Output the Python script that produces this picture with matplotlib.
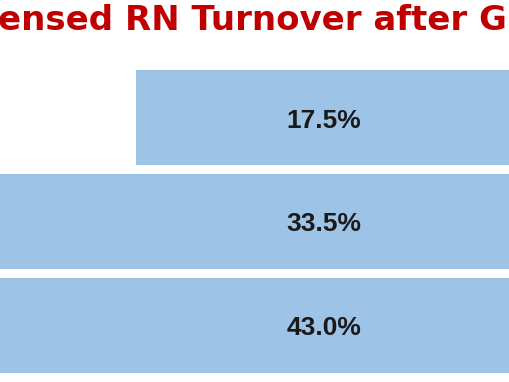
import matplotlib.pyplot as plt

stages = ["Stage 1", "Stage 2", "Stage 3"]
values = [17.5, 33.5, 43.0]
labels = ["17.5%", "33.5%", "43.0%"]

fig = plt.figure(figsize=(5.1, 3.82), dpi=100)
ax = fig.add_axes([0, 0, 1, 1])

ypos = list(range(len(values)))
lefts = [-v / 2 for v in values]
ax.barh(ypos, values, left=lefts, height=0.915, color="#9DC3E6", edgecolor="none")

for y, lab in zip(ypos, labels):
    ax.text(0, y + 0.03, lab, ha="center", va="center", fontsize=19, fontweight="bold",
            color="#1a1a1a", family="Liberation Sans")

# view is a crop of a wider funnel
ax.set_xlim(-15.1, 8.7)
ax.set_ylim(2.549, -1.133)
ax.axis("off")

fig.text(-0.004, 1 - 21 / 382, "ensed RN Turnover after G", ha="left", va="center",
         fontsize=24.5, fontweight="bold", color="#C00000", family="DejaVu Sans")

fig.savefig("out.png", dpi=100)
